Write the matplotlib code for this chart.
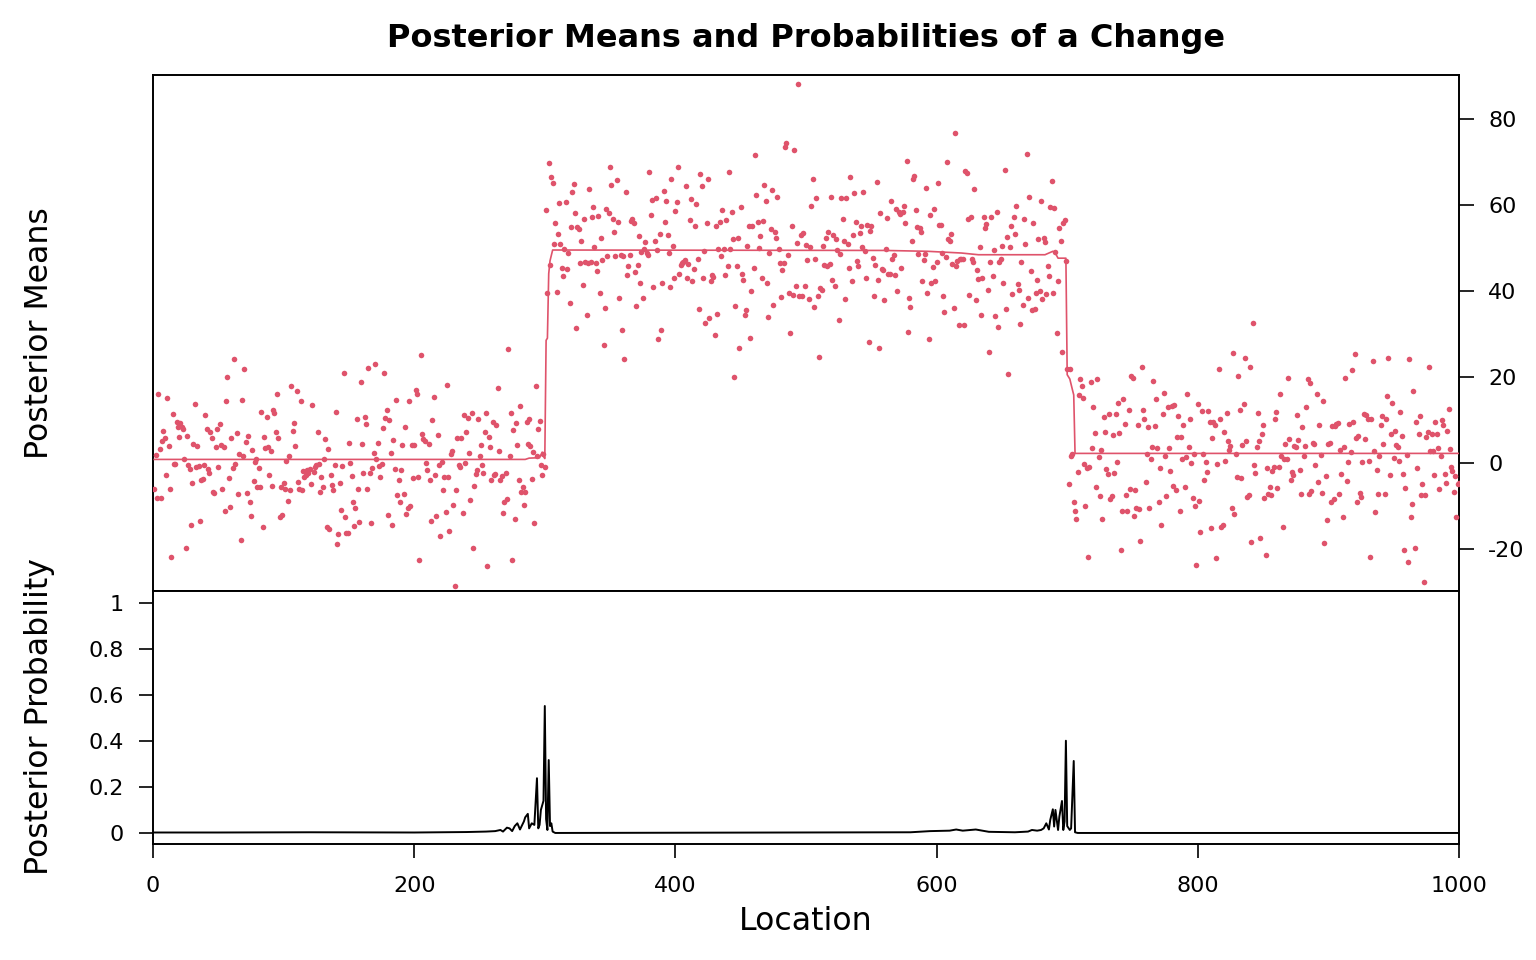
import numpy as np
import matplotlib
matplotlib.use("Agg")
import matplotlib.pyplot as plt

plt.rcParams["axes.unicode_minus"] = False

seg1_vals = [
    -6.0, 1.9, -8.1, 16.0, 3.3, -8.1, 5.0, 7.5, 5.8, -2.9,
    15.2, 4.0, -6.0, -21.9, 11.4, -0.3, -0.2, 9.6, 8.3, 6.0,
    9.2, 8.4, 7.8, 0.9, -19.7, 6.3, -0.5, -1.4, -14.5, -4.7,
    4.3, 13.7, -0.9, 4.0, -0.7, -13.6, -4.0, -3.8, -0.5, 11.1,
    7.8, -1.5, -2.4, 7.1, 5.7, -6.7, -6.9, 3.8, 7.8, -1.0,
    9.0, 4.1, -6.0, 3.6, -11.2, 14.4, 19.9, -3.5, -10.3, 5.8,
    -1.2, 24.1, -0.2, 7.0, -7.3, 2.1, -17.9, 14.7, 1.7, 21.8,
    4.9, -7.0, 6.2, -9.1, -12.3, 3.0, -4.3, 0.2, 0.9, -5.5,
    -1.2, -5.7, 11.9, -15.0, 6.0, 3.5, 10.7, 3.8, -2.9, 2.8,
    -5.3, 12.2, 11.7, 7.1, 16.0, 5.7, -12.6, -5.5, -12.1, -4.7,
    -6.0, 0.5, -8.9, 1.7, -6.4, 17.8, 7.3, 9.2, 4.0, 16.8,
    -4.4, -6.1, 14.4, -6.4, -1.9, -3.3, -2.8, -1.7, -2.4, -1.5,
    -4.9, 13.5, -2.1, -0.9, -0.5, 7.2, -0.2, -6.7, -3.2, -5.7,
    0.8, 5.5, -15.0, 3.2, -15.3, -2.9, -5.1, -6.3, -0.4, 11.9,
    -18.9, -16.5, -4.6, -10.9, -0.7, 20.9, -12.7, -16.2,
    -16.2, 4.7, 0.0, -3.0, -9.1, -14.7, -10.5, 10.1, -6.0, -13.7,
    18.8, 4.3, -2.3, 10.6, 9.0, -6.0, 22.1, -2.4, -14.0, -1.2,
    2.2, 23.1, 1.0, 4.7, -0.7, -3.3, -0.3, 8.0, 20.9, 10.4,
    12.2, -12.2, 9.9, 2.3, -14.5, 5.3, -1.5, 14.7, -7.5, -4.1,
    -9.1, -1.6, 4.1, -7.2, 8.4, -11.9, -10.4, 14.4, -10.0, 4.2,
    -3.6, 4.2, 17.0, 16.0, -3.2, -22.6, 25.0, 6.7, 5.5, 5.2,
    0.0, -1.6, 4.3, -4.0, -13.5, 10.0, 15.3, -2.9, -12.3, 6.5,
    -0.4, -17.1, 0.1, -6.2, -3.3, -11.4, 18.1, -3.2, -15.8, 2.0,
    2.8, -9.7, -28.7, -6.3, 5.8, -0.5, -0.9, 5.7, -11.7, 11.1,
    0.0, 7.2, 10.4, 2.3, -8.7, 11.7, -19.8, -5.3, -2.5, -1.6,
    10.3, 1.5, 4.2, -0.6, -2.3, 7.1, 11.6, -23.9, 5.9, 3.8,
    -4.0, 9.6, -2.8, -2.6, 8.7, 17.3, 2.8, -4.0, -3.1, -11.7,
    -9.2, -2.4, -8.4, 26.5, 1.7, 11.5, -22.7, 7.6, -13.0, 9.3,
    4.1, -4.0, 13.3, -6.8, -5.6, -9.8, -6.7, 9.6, 4.4, 10.1,
    4.0, -3.8, 2.6, -14.1, 17.8, 1.5, 7.8, 9.7, -0.4, -2.9,
    2.0, -1.0,
]
seg2_vals = [
    58.9, 39.5, 69.7, 46.1, 66.5, 65.0, 50.8, 55.7, 39.8, 53.2,
    60.4, 50.9, 45.4, 43.4, 49.7, 60.7, 45.1, 48.8, 37.1, 54.9,
    63.0, 64.9, 58.2, 31.3, 54.8, 54.5, 46.4, 51.7, 41.3, 56.7,
    46.7, 34.3, 46.4, 63.6, 46.6, 57.2, 59.4, 50.1, 46.4, 44.7,
    57.4, 39.4, 52.4, 47.1, 27.4, 35.9, 59.1, 48.1, 58.0, 68.8,
    64.7, 56.7, 53.8, 48.1, 65.7, 55.9, 38.3, 48.4, 30.9, 48.1,
    24.2, 63.1, 43.6, 45.7, 48.3, 56.3, 56.7, 55.7, 44.3, 36.4,
    46.0, 52.7, 41.8, 49.1, 38.4, 49.8, 51.3, 48.8, 48.4, 67.6,
    57.6, 61.1, 40.8, 51.7, 61.5, 49.5, 28.8, 53.3, 30.9, 41.9,
    63.2, 56.1, 60.9, 53.0, 48.9, 40.8, 65.9, 50.5, 42.9, 58.6,
    60.7, 68.9, 44.0, 46.0, 46.4, 46.7, 47.1, 64.3, 43.0, 46.2,
    56.5, 61.3, 42.3, 45.0, 55.2, 60.2, 47.5, 35.7, 67.1, 64.3,
    42.9, 49.3, 32.5, 55.7, 66.0, 33.6, 42.4, 43.6, 43.3, 29.8,
    55.0, 34.7, 49.7, 56.0, 48.0, 58.8, 49.8, 43.6, 56.4, 45.7,
    67.7, 49.8, 58.4, 52.0, 20.0, 36.4, 45.8,
    52.3, 26.6, 59.5, 44.0, 42.5, 34.5, 35.5, 50.5, 55.0, 29.1,
    39.9, 55.2, 45.4, 71.6, 62.4, 55.9, 50.0, 52.7, 42.9, 56.2,
    64.7, 60.8, 41.9, 33.9, 48.8, 54.4, 63.5, 36.7, 53.7, 52.3,
    61.9, 49.7, 46.4, 38.6, 44.8, 46.4, 73.4, 74.4, 48.3, 39.5,
    30.3, 55.1, 39.1, 72.8, 41.2, 51.1, 88.0, 38.9, 53.0, 38.9,
    53.4, 41.2, 50.7, 47.1, 38.2, 50.2, 59.8, 65.9, 36.3, 47.4,
    61.6, 38.8, 24.7, 40.7, 40.3, 50.5, 46.0, 52.2, 45.8, 53.7,
    46.3, 61.9, 42.6, 52.9, 41.2, 52.1, 49.6, 33.2, 48.5, 61.7,
    56.7, 51.5, 38.1, 61.6, 50.8, 45.4, 66.4, 42.2, 52.9, 62.7,
    56.0, 46.9, 45.8, 53.5, 55.0, 50.2, 63.1, 49.3, 43.0, 55.3,
    28.1, 53.9, 55.0, 47.7, 38.8, 46.0, 65.4, 42.6, 26.7, 58.1,
    45.0, 44.8, 37.9, 49.8, 56.9, 44.0, 43.9, 60.9, 47.4, 48.4,
    43.7, 59.0, 40.0, 58.4, 57.8, 45.3, 58.4, 59.8, 55.7, 70.2,
    30.4, 38.4, 36.3, 51.7, 65.9, 66.8, 58.8, 54.9, 48.6, 54.7,
    53.8, 42.4, 47.1, 48.6, 63.9, 39.6, 28.9, 57.7, 41.9, 45.6,
    59.0, 42.4, 46.6, 65.0, 55.3, 55.3, 48.8, 38.7, 35.0, 47.8,
    69.9, 52.0, 51.6, 53.3, 46.2, 36.0, 76.7, 45.7, 47.0, 32.1,
    47.4, 47.4, 47.4, 32.1, 67.8, 67.5, 56.8, 39.0, 57.1, 47.4,
    46.8, 63.6, 37.8, 44.9, 42.7, 50.2, 34.3, 42.9, 57.1, 54.7,
    55.6, 40.2, 25.7, 46.6, 57.1, 43.4, 49.6, 34.1, 58.4, 31.6,
    46.8, 47.4, 50.5, 41.8, 68.2, 35.7, 52.5, 20.7, 50.1, 55.1,
    39.2, 57.1, 53.3, 59.7, 41.6, 40.2, 32.3, 46.8, 36.7, 56.8,
    50.8, 71.8, 38.4, 61.8, 44.7, 35.6, 55.7, 35.8, 39.4, 42.6,
    52.1, 40.0, 60.8, 38.1, 52.2, 51.3, 39.3, 45.7, 43.4, 59.5,
    65.5, 39.6, 59.2, 49.1, 30.3, 42.4, 54.6, 51.5, 25.7, 55.7,
    56.5, 47.0, 21.8,
]
seg3_vals = [
    -4.9, 21.8, 1.5, 2.1, -9.1, -11.3, -13.1, -2.2, 15.7, 19.6,
    17.8, 15.0, -0.2, -10.1, -1.1, -21.9, -1.0, 18.7, 3.5, 13.0,
    7.0, -5.7, 19.5, 1.4, -7.6, 2.9, -13.0, 10.7, 7.1, -1.5,
    -2.7, 11.4, -8.3, -7.6, 6.4, -2.4, 11.3, 0.2, 14.0, 7.0,
    -20.2, -11.2, 14.9, 9.0, -7.5, -11.3, 12.4, -6.0, 20.1, 19.8,
    -12.4, -6.4, -10.4, 8.8, -10.8, -18.1, 22.2, 12.2, 10.2, -4.5,
    2.0, 8.3, -10.6, 0.9, 3.8, 19.0, 8.5, 14.9, 3.5, -9.0,
    -1.3, -14.5, 11.3, 16.3, 1.5, -7.7, 12.9, 3.5, -1.8, 13.3,
    -5.4, 13.5, -6.3, 6.0, 11.0, -11.2, 6.0, 1.0, 8.8, -5.7,
    1.3, 15.9, 3.8, 10.2, -0.1, -8.2, 2.0, -10.1, -23.8, 13.7,
    -8.8, -16.0, 12.0, 2.0, -3.9, 0.3, -2.1, 12.0, 9.4, -15.1,
    5.7, 9.4, 8.8, -22.1, -0.2, 21.9, 10.1, -14.8, -14.5, 7.1,
    0.4, 11.7, 5.0, 3.0, 3.9, -10.5, 25.5, -11.9, 2.0, -3.3,
    20.1, 12.2, -3.6, 4.2, 13.7, 24.3, 5.1, -8.0, -7.4, 22.2,
    -18.5, 32.6, -0.5, -2.4, 3.7, 11.5, 5.2, -17.4, 6.6, 8.8,
    -8.2, -21.5,
    -1.2, -7.2, -5.6, -7.4, -1.9, -0.9, 10.1, 11.9, -5.8, -0.9,
    16.0, 1.5, -14.8, 0.9, 4.4, 1.0, 19.8, 5.6, -4.0, -2.2,
    -2.9, 3.9, 3.8, 11.2, 5.3, -1.6, -7.2, 8.4, 1.5, 4.0,
    13.1, 19.6, -7.3, 18.5, -6.5, 4.7, 4.3, -0.6, 16.0, -4.4,
    8.7, 1.9, -7.1, 14.3, -18.7, -3.1, -13.3, 4.3, 4.7, -9.1,
    8.6, -8.3, 8.6, 9.1, 9.2, -7.2, 3.0, -2.5, -12.6, 3.6,
    19.8, -4.3, 0.1, 9.0, 2.5, 21.6, 9.4, 25.3, 5.7, -9.1,
    6.3, -7.1, -8.0, 0.2, 11.4, 5.6, 11.1, 10.2, 0.5, -21.9,
    10.2, 23.7, 2.7, -11.4, -1.6, -7.2, 1.7, 8.8, 10.8, 4.4,
    -7.2, 10.2, 15.6, 24.5, -2.8, 6.8, 14.0, 1.1, 7.3, 4.2,
    3.8, 0.5, 11.8, 6.2, -2.6, -20.3, -5.8, 1.9, -23.0, 24.1,
    -12.7, -9.5, 16.6, -19.7, 9.5, -1.3, 6.7, 10.9, -7.4, -4.9,
    -27.8, -7.4, 5.9, 7.2, 22.3, 2.7, 6.7, 2.8, -2.8, 9.5,
    6.7, 3.4, -6.0, 1.6, 10.0, 8.8, -2.7, -4.6, 7.3, 12.6,
    3.3, -1.0, -2.0, -6.7, -3.0, -12.6, -4.8, -4.7,
]

# posterior mean line (read at knots)
pm_loc = [1, 285, 288, 296, 298, 299, 300, 301, 302, 303, 304, 306, 560, 593,
          619, 632, 683, 689, 691, 693, 699, 700, 702, 704, 705, 706, 1000]
pm_val = [0.8, 0.8, 1.1, 1.2, 2.5, 1.5, 1.0, 28.5, 29.0, 44.0, 47.0, 49.5, 49.4,
          49.2, 48.8, 48.4, 48.4, 49.2, 48.7, 47.6, 47.6, 20.5, 19.5, 17.0, 15.8,
          2.2, 2.2]

# posterior probability of a change (read at knots)
pp_loc = [1, 50, 120, 200, 240, 255, 262, 266, 268, 271, 273, 275, 277, 279, 281,
          284, 285, 287, 288, 290, 292, 294, 295, 296, 297, 299, 300, 301, 302,
          303, 304, 305, 306, 308, 400, 580, 595, 610, 615, 620, 630, 640, 660,
          670, 673, 677, 680, 682, 684, 686, 687, 689, 690, 691, 693, 694, 696,
          697, 698, 699, 700, 702, 703, 705, 706, 708, 1000]
pp_val = [0.002, 0.002, 0.003, 0.002, 0.004, 0.006, 0.008, 0.013, 0.006, 0.023,
          0.02, 0.008, 0.03, 0.042, 0.015, 0.05, 0.068, 0.083, 0.02, 0.042, 0.035,
          0.238, 0.02, 0.035, 0.1, 0.14, 0.552, 0.06, 0.013, 0.317, 0.03, 0.042,
          0.006, 0.0, 0.001, 0.003, 0.008, 0.01, 0.015, 0.01, 0.015, 0.005, 0.003,
          0.006, 0.013, 0.01, 0.013, 0.02, 0.042, 0.015, 0.056, 0.103, 0.028, 0.1,
          0.013, 0.071, 0.139, 0.013, 0.05, 0.401, 0.03, 0.013, 0.02, 0.313,
          0.003, 0.0, 0.0]

y_all = np.array(seg1_vals + seg2_vals + seg3_vals)
loc = np.arange(1, len(y_all) + 1)

RED = "#DF536B"
W, H = 1536, 960
fig = plt.figure(figsize=(W / 100, H / 100), dpi=100)

L, R = 153 / W, 1459 / W
ax1 = fig.add_axes([L, 1 - 591 / H, R - L, 516 / H])
ax2 = fig.add_axes([L, 1 - 844 / H, R - L, 253 / H])

ax1.scatter(loc, y_all, s=16, color=RED, linewidths=0, zorder=3)
ax1.plot(pm_loc, pm_val, color=RED, lw=1.2, zorder=4)
ax1.set_xlim(0, 1000)
ax1.set_ylim(-29.8, 90.2)
ax1.set_xticks([])
ax1.yaxis.tick_right()
ax1.set_yticks([-20, 0, 20, 40, 60, 80])
ax1.tick_params(axis="y", direction="out", length=11, width=1.2, labelsize=16, pad=10)

ax2.plot(pp_loc, pp_val, color="black", lw=1.4)
ax2.set_xlim(0, 1000)
ax2.set_ylim(-0.048, 1.052)
ax2.set_yticks([0, 0.2, 0.4, 0.6, 0.8, 1.0])
ax2.set_yticklabels(["0", "0.2", "0.4", "0.6", "0.8", "1"])
ax2.set_xticks([0, 200, 400, 600, 800, 1000])
ax2.tick_params(axis="both", direction="out", length=10, width=1.2, labelsize=16)
ax2.tick_params(axis="y", pad=11)
ax2.tick_params(axis="x", pad=13)

for ax in (ax1, ax2):
    for s in ax.spines.values():
        s.set_linewidth(1.4)

cx = (L + R) / 2
fig.text(cx, 1 - 39 / H, "Posterior Means and Probabilities of a Change",
         ha="center", va="center", fontsize=23, fontweight="bold")
fig.text(cx, 1 - 922 / H, "Location", ha="center", va="center", fontsize=22.7)
fig.text(40 / W, 1 - 333 / H, "Posterior Means", rotation=90, ha="center",
         va="center", fontsize=22.7)
fig.text(40 / W, 1 - 717 / H, "Posterior Probability", rotation=90, ha="center",
         va="center", fontsize=22.7)

fig.savefig("out.png", dpi=100)
